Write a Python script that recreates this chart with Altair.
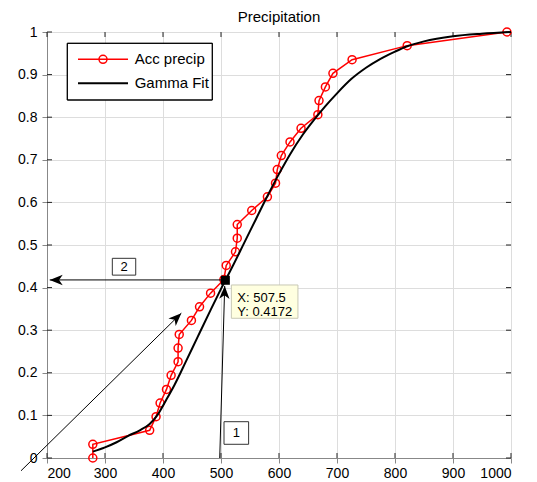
import altair as alt
import pandas as pd

FONT = "Liberation Sans"

title_text = "Precipitation"
x_ticks = [200, 300, 400, 500, 600, 700, 800, 900, 1000]
y_ticks = [0, 0.1, 0.2, 0.3, 0.4, 0.5, 0.6, 0.7, 0.8, 0.9, 1]

acc_label = "Acc precip"
acc_x = [279, 279, 377, 388, 395, 406, 414, 426, 426, 428, 449, 463, 482, 505, 509, 525,
         528, 528, 553, 580, 594, 597, 604, 619, 638, 667, 669, 680, 693, 726, 821, 993]
acc_y = [0.000, 0.032, 0.065, 0.097, 0.129, 0.161, 0.194, 0.226, 0.258, 0.290, 0.323,
         0.355, 0.387, 0.419, 0.452, 0.484, 0.516, 0.548, 0.581, 0.613, 0.645, 0.677,
         0.710, 0.742, 0.774, 0.806, 0.839, 0.871, 0.903, 0.935, 0.968, 1.000]

fit_label = "Gamma Fit"
fit_x = [279, 300, 320, 340, 360, 377, 390, 405, 420, 440, 460, 483, 500, 507.5, 520, 540,
         560, 580, 600, 620, 640, 660, 680, 700, 725, 750, 775, 800, 820, 850, 900, 950, 1000]
fit_y = [0.015, 0.025, 0.037, 0.052, 0.065, 0.080, 0.100, 0.135, 0.172, 0.228, 0.285, 0.350,
         0.397, 0.4172, 0.450, 0.505, 0.560, 0.615, 0.667, 0.715, 0.757, 0.793, 0.826, 0.856,
         0.890, 0.916, 0.937, 0.954, 0.966, 0.978, 0.990, 0.996, 1.000]

tip_x = 507.5
tip_y = 0.4172

arrow_x1 = [497.8, 503.4, 155.2]
arrow_y1 = [0.0, 0.418, -0.030]
arrow_x2 = [506.4, 204.7, 431.6]
arrow_y2 = [0.404, 0.418, 0.340]
arrow_angle = [1.7, 270, 45.5]

box_labels = ["1", "2"]
box_x = [526.4, 332.8]
box_y = [0.0587, 0.449]

W, H = 464, 426
ARROW = "M0,0 L-0.4,1 L0,0.72 L0.4,1 Z"

xs = alt.Scale(domain=[200, 1000], nice=False, zero=False)
ys = alt.Scale(domain=[0, 1], nice=False, zero=False)
xa = alt.Axis(values=x_ticks, title=None, format="d", labelPadding=3, labelFontSize=14)
ya = alt.Axis(values=y_ticks, title=None, format="~g", labelPadding=5, labelFontSize=14)


def X(f):
    return alt.X(f, type="quantitative", scale=xs, axis=xa)


def Y(f):
    return alt.Y(f, type="quantitative", scale=ys, axis=ya)


acc_df = pd.DataFrame({"x": acc_x, "y": acc_y, "i": list(range(len(acc_x)))})
fit_df = pd.DataFrame({"x": fit_x, "y": fit_y})
tip_df = pd.DataFrame({"x": [tip_x], "y": [tip_y], "label": [f"X: {tip_x}\nY: {tip_y}"]})
arr_df = pd.DataFrame({"x1": arrow_x1, "y1": arrow_y1, "x2": arrow_x2, "y2": arrow_y2,
                       "a": arrow_angle})
box1_df = pd.DataFrame({"x": box_x[:1], "y": box_y[:1], "t": box_labels[:1]})
box2_df = pd.DataFrame({"x": box_x[1:], "y": box_y[1:], "t": box_labels[1:]})
xt_df = pd.DataFrame({"v": x_ticks})
yt_df = pd.DataFrame({"v": y_ticks})
one = pd.DataFrame({"k": [0]})

acc_line = alt.Chart(acc_df).mark_line(color="#ff0000", strokeWidth=1.5).encode(
    x=X("x"), y=Y("y"), order="i:Q")
acc_pts = alt.Chart(acc_df).mark_point(shape="circle", filled=False, color="#ff0000",
                                       size=64, strokeWidth=1.5, opacity=1).encode(
    x=X("x"), y=Y("y"))
fit_line = alt.Chart(fit_df).mark_line(color="black", strokeWidth=2,
                                       interpolate="monotone").encode(x=X("x"), y=Y("y"))

arrows = alt.Chart(arr_df).mark_rule(color="black", strokeWidth=1).encode(
    x=X("x1"), y=Y("y1"), x2="x2:Q", y2="y2:Q")
heads = alt.Chart(arr_df).mark_point(shape=ARROW, filled=True, color="black", size=676,
                                     opacity=1, strokeWidth=0).encode(
    x=X("x2"), y=Y("y2"), angle=alt.Angle("a:Q", scale=None))

tip_box = alt.Chart(tip_df).mark_rect(fill="#ffffe0", stroke="#c8c8b4", strokeWidth=1,
                                      xOffset=6, x2Offset=72.6, yOffset=4.7,
                                      y2Offset=38).encode(x=X("x"), x2="x:Q", y=Y("y"),
                                                          y2="y:Q")
tip_text = alt.Chart(tip_df).mark_text(align="left", baseline="top", lineBreak="\n",
                                       lineHeight=14.5, dx=12, dy=11.5, fontSize=13,
                                       font=FONT, color="black").encode(
    x=X("x"), y=Y("y"), text="label:N")
tip_mark = alt.Chart(tip_df).mark_square(size=81, color="black", opacity=1).encode(
    x=X("x"), y=Y("y"))

box1 = alt.Chart(box1_df).mark_rect(fill="white", stroke="#333333", strokeWidth=1,
                                    xOffset=-12.3, x2Offset=12.3, yOffset=-11.3,
                                    y2Offset=11.3).encode(x=X("x"), x2="x:Q", y=Y("y"),
                                                          y2="y:Q")
box2 = alt.Chart(box2_df).mark_rect(fill="white", stroke="#333333", strokeWidth=1,
                                    xOffset=-11.7, x2Offset=11.7, yOffset=-8.4,
                                    y2Offset=8.4).encode(x=X("x"), x2="x:Q", y=Y("y"),
                                                         y2="y:Q")
box_text = alt.Chart(pd.concat([box1_df, box2_df])).mark_text(
    fontSize=13, font=FONT, color="black", align="center", baseline="middle").encode(
    x=X("x"), y=Y("y"), text="t:N")

# legend
leg_box = alt.Chart(one).mark_rect(fill="white", stroke="black", strokeWidth=1).encode(
    x=alt.value(20.3), x2=alt.value(165.3), y=alt.value(11.3), y2=alt.value(68))
leg_red = alt.Chart(one).mark_rule(color="#ff0000", strokeWidth=1.5).encode(
    x=alt.value(31), x2=alt.value(81), y=alt.value(27.3))
leg_redpt = alt.Chart(one).mark_point(shape="circle", filled=False, color="#ff0000",
                                      size=64, strokeWidth=1.5, opacity=1).encode(
    x=alt.value(56), y=alt.value(27.3))
leg_black = alt.Chart(one).mark_rule(color="black", strokeWidth=2).encode(
    x=alt.value(31), x2=alt.value(81), y=alt.value(51.3))
leg_t1 = alt.Chart(one).mark_text(align="left", baseline="middle", fontSize=15, font=FONT,
                                  color="black").encode(
    x=alt.value(87.7), y=alt.value(27.3), text=alt.value(acc_label))
leg_t2 = alt.Chart(one).mark_text(align="left", baseline="middle", fontSize=15, font=FONT,
                                  color="black").encode(
    x=alt.value(87.7), y=alt.value(51.3), text=alt.value(fit_label))
leg_edge = alt.Chart(one).mark_rect(fill="transparent", stroke="black",
                                    strokeWidth=1).encode(
    x=alt.value(20.3), x2=alt.value(165.3), y=alt.value(11.3), y2=alt.value(68))

# inward ticks on all four sides
tk = dict(color="#222222", strokeWidth=1)
t_bot = alt.Chart(xt_df).mark_rule(**tk).encode(x=X("v"), y=alt.value(H), y2=alt.value(H - 5))
t_top = alt.Chart(xt_df).mark_rule(**tk).encode(x=X("v"), y=alt.value(0), y2=alt.value(5))
t_lef = alt.Chart(yt_df).mark_rule(**tk).encode(y=Y("v"), x=alt.value(0), x2=alt.value(5))
t_rig = alt.Chart(yt_df).mark_rule(**tk).encode(y=Y("v"), x=alt.value(W), x2=alt.value(W - 5))

chart = alt.layer(
    t_bot, t_top, t_lef, t_rig,
    acc_line, acc_pts, fit_line,
    arrows, heads,
    tip_box, tip_text, tip_mark,
    box1, box2, box_text,
    leg_box, leg_red, leg_redpt, leg_black, leg_t1, leg_t2, leg_edge,
).properties(
    width=W, height=H,
    title=alt.TitleParams(title_text, fontSize=15, font=FONT, fontWeight="normal",
                          color="black", offset=0, anchor="middle"),
    padding={"left": 9, "top": 2, "right": 0, "bottom": 0},
).configure_view(stroke="#222222", strokeWidth=1).configure_axis(
    labelFont=FONT, labelColor="black", ticks=False, domain=False, grid=False
).configure(background="white")

chart.save("out.html", embed_options={"renderer": "svg", "actions": False})
